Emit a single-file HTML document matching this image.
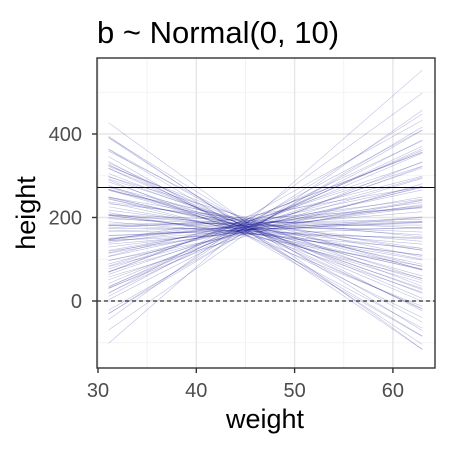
<!DOCTYPE html>
<html><head><meta charset="utf-8"><style>
body{margin:0;background:#fff}
svg{font-family:"Liberation Sans",sans-serif}
</style></head><body>
<svg id="c" width="450" height="450" xmlns="http://www.w3.org/2000/svg"></svg>
<script>
const xTicks=[30,40,50,60];
const xMinor=[35,45,55];
const yTicks=[0,200,400];
const yMinor=[-100,100,300,500];
const weightMin=31.07, weightMax=62.99, weightMean=45;
const intercepts=[190,175,168,183,160,192,178,171,186,158,197,180,165,174,188,169,200,177,162,184,173,195,166,181,170,156,189,176,163,198,179,172,185,167,193,161,182,174,187,170,159,196,178,164,183,171,190,168,177,202,160,185,173,166,191,179,155,188,175,169,194,163,181,176,186,170,199,165,178,160,184,172,190,167,180,175,193,162,187,171,182,176,168,195,173,185,158,179,190,164,177,181,170,188,174,166,192,178,183,169];
const slopes=[-17,-15.5,-14,-13,-12.5,-12,-11,-10.5,-10,-9.5,-9,-8.5,-8,-8,-7.5,-7,-7,-6.5,-6,-6,-5.5,-5,-5,-4.5,-4,-4,-3.5,-3,-3,-2.5,-2,-2,-1.5,-1,-1,-0.5,0,0,0.5,1,1,1.5,2,2,2.5,3,3,3.5,4,4,4.5,5,5.5,6,6,6.5,7,7.5,8,8.5,9,9.5,10,10.5,11,12,13,14,15,16.5,20.5,-16,-14.5,-11.5,-9,-7,-4,-2,0.2,1,3,5,7,9,11,12.5,-13.5,-10,-6,-3,0.7,2.5,4,8,10,13.5,17,-5,-1,1.8,6.5];
const refLines=[0,272];
const ns="http://www.w3.org/2000/svg";
const svg=document.getElementById('c');
const X=w=>98+(w-30)*9.83, Y=h=>301-h*0.4175;
const L={x0:97,x1:435,y0:58,y1:368};
function mk(t,a){const e=document.createElementNS(ns,t);for(const k in a)e.setAttribute(k,a[k]);svg.appendChild(e);return e;}
const bg=mk('rect',{x:L.x0,y:L.y0,width:L.x1-L.x0,height:L.y1-L.y0,fill:'#fff'});


xMinor.forEach(v=>{const e=mk('line',{x1:X(v),x2:X(v),y1:L.y0,y2:L.y1,stroke:'#f0f0f0','stroke-width':0.8});

});
yMinor.forEach(v=>{const e=mk('line',{x1:L.x0,x2:L.x1,y1:Y(v),y2:Y(v),stroke:'#f0f0f0','stroke-width':0.8});

});
xTicks.forEach(v=>{const e=mk('line',{x1:X(v),x2:X(v),y1:L.y0,y2:L.y1,stroke:'#e6e6e6','stroke-width':1.4});

});
yTicks.forEach(v=>{const e=mk('line',{x1:L.x0,x2:L.x1,y1:Y(v),y2:Y(v),stroke:'#e6e6e6','stroke-width':1.4});

});
const r0=mk('line',{x1:L.x0,x2:L.x1,y1:Y(refLines[0]),y2:Y(refLines[0]),stroke:'#000','stroke-width':1,'stroke-dasharray':'4,3'});


const r1=mk('line',{x1:L.x0,x2:L.x1,y1:Y(refLines[1]),y2:Y(refLines[1]),stroke:'#000','stroke-width':1});


intercepts.forEach((a,i)=>{const b=slopes[i];
const e=mk('line',{x1:X(weightMin),x2:X(weightMax),y1:Y(a+b*(weightMin-weightMean)),y2:Y(a+b*(weightMax-weightMean)),stroke:'#00008b','stroke-opacity':0.25,'stroke-width':0.6});

});
const bd=mk('rect',{x:L.x0,y:L.y0,width:L.x1-L.x0,height:L.y1-L.y0,fill:'none',stroke:'#333','stroke-width':1.4});


xTicks.forEach(v=>{mk('line',{x1:X(v),x2:X(v),y1:L.y1,y2:L.y1+5,stroke:'#333','stroke-width':1.4});
const t=mk('text',{x:X(v),y:L.y1+29,'text-anchor':'middle','font-size':20,fill:'#4d4d4d'});t.textContent=v;

});
yTicks.forEach(v=>{mk('line',{x1:L.x0-5,x2:L.x0,y1:Y(v),y2:Y(v),stroke:'#333','stroke-width':1.4});
const t=mk('text',{x:L.x0-15,y:Y(v)+7,'text-anchor':'end','font-size':20,fill:'#4d4d4d'});t.textContent=v;

});
const xt=mk('text',{x:265,y:428,'text-anchor':'middle','font-size':27,fill:'#000'});xt.textContent='weight';


const yt=mk('text',{x:0,y:0,'text-anchor':'middle','font-size':27,fill:'#000',transform:'translate(35,213) rotate(-90)'});yt.textContent='height';


const tt=mk('text',{x:97,y:43,'font-size':31,fill:'#000'});tt.textContent='b ~ Normal(0, 10)';


</script>
</body></html>
